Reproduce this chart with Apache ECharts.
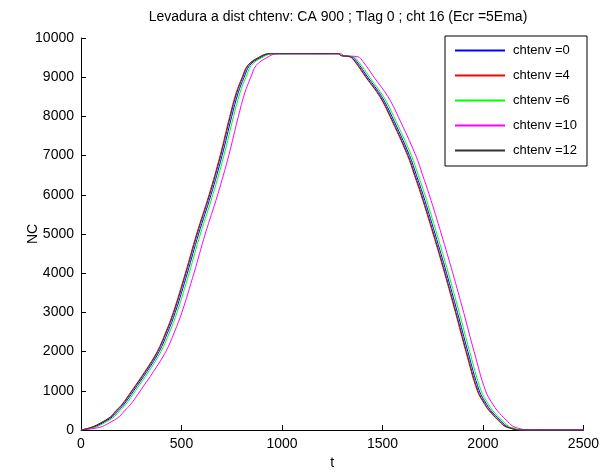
<!DOCTYPE html>
<html>
<head>
<meta charset="utf-8">
<script src="https://cdn.jsdelivr.net/npm/echarts@6/dist/echarts.min.js"></script>
<style>html,body{margin:0;padding:0;background:#fff}#c{width:602px;height:475px}</style>
</head>
<body>
<div id="c"></div>
<script>
// Shared value levels (NC) crossed by each curve, and the time (t) at which each series reaches them
const levels = [0,70,180,340,500,640,1000,1500,2000,2500,3000,4000,5000,6000,7000,8000,8600,9000,9300,9500,9600,
                9600,9550,9520,
                9400,9000,8500,8000,7000,6500,6000,5000,4000,3000,2000,1000,650,500,250,100,50,0,0];
const tChtenv0  = [0,62,107,157,185,212,262,329,389,432,469,529,585,647,702,750,782,812,839,892,947,
                   1282,1297,1347,
                   1372,1427,1497,1547,1635,1669,1702,1762,1819,1873,1925,1982,2019,2039,2085,2117,2142,2188,2500];
const tChtenv4  = [0,52,97,147,175,202,252,319,379,422,459,519,575,637,692,740,772,802,829,882,937,
                   1280,1295,1338,
                   1362,1417,1487,1537,1625,1659,1692,1752,1809,1863,1915,1972,2009,2029,2075,2107,2132,2177,2500];
const tChtenv6  = [0,71,116,166,194,221,271,338,398,441,478,538,594,656,711,759,791,821,848,901,956,
                   1284,1299,1356,
                   1381,1436,1506,1556,1644,1678,1711,1771,1828,1882,1934,1991,2028,2048,2094,2126,2151,2198,2500];
const tChtenv10 = [0,95,140,190,218,245,295,362,422,465,502,562,618,680,735,783,815,845,872,925,978,
                   1290,1310,1378,
                   1403,1458,1528,1578,1666,1700,1733,1793,1850,1904,1956,2013,2050,2070,2116,2148,2173,2225,2500];
const tChtenv12 = [0,55,100,150,178,205,255,322,382,425,462,522,578,640,695,743,775,805,832,885,940,
                   1280,1295,1340,
                   1365,1420,1490,1540,1628,1662,1695,1755,1812,1866,1918,1975,2012,2032,2078,2110,2135,2180,2500];

const seriesNames = ['chtenv =0','chtenv =4','chtenv =6','chtenv =10','chtenv =12'];
const seriesTimes = [tChtenv0, tChtenv4, tChtenv6, tChtenv10, tChtenv12];
const seriesColors = ['#0000ff','#ff0000','#00ff00','#ff00ff','#333333'];
const xTicks = [0,500,1000,1500,2000,2500];
const yTicks = [0,1000,2000,3000,4000,5000,6000,7000,8000,9000,10000];

const FONT = "'Liberation Sans', Arial, sans-serif";
const chart = echarts.init(document.getElementById('c'), null, {renderer:'canvas'});
chart.setOption({
  animation: false,
  backgroundColor: '#fff',
  title: {
    text: 'Levadura a dist chtenv: CA 900 ; Tlag 0 ; cht 16 (Ecr =5Ema)',
    left: 333, top: 5, textAlign: 'center',
    textStyle: {fontFamily: FONT, fontSize: 14, fontWeight: 'normal', color: '#000'}
  },
  grid: {left: 81, right: 17, top: 38, bottom: 42, containLabel: false},
  graphic: [{
    type: 'rect', z: 5,
    shape: {x: 445, y: 36, width: 142, height: 130},
    style: {fill: '#fff', stroke: '#000', lineWidth: 1}
  }],
  legend: {
    z: 10,
    left: 455, top: 43, orient: 'vertical',
    icon: 'rect',
    itemWidth: 50, itemHeight: 2, itemGap: 10, padding: 0,
    itemStyle: {borderWidth: 0},
    textStyle: {fontFamily: FONT, fontSize: 13, color: '#000', padding: [0,0,0,3], lineHeight: 15},
    data: seriesNames
  },
  xAxis: {
    type: 'value', min: xTicks[0], max: xTicks[xTicks.length-1], interval: 500,
    name: 't', nameLocation: 'middle', nameGap: 26, nameMoveOverlap: false,
    nameTextStyle: {fontFamily: FONT, fontSize: 14, color: '#000'},
    axisLine: {show: true, onZero: false, lineStyle: {color: '#000', width: 1}},
    axisTick: {show: true, inside: true, length: 5, lineStyle: {color: '#000'}},
    axisLabel: {fontFamily: FONT, fontSize: 14, color: '#000', margin: 7, formatter: v => String(v)},
    splitLine: {show: false}
  },
  yAxis: {
    type: 'value', min: yTicks[0], max: yTicks[yTicks.length-1], interval: 1000,
    name: 'NC', nameLocation: 'middle', nameGap: 41, nameMoveOverlap: false,
    nameTextStyle: {fontFamily: FONT, fontSize: 14, color: '#000'},
    axisLine: {show: true, onZero: false, lineStyle: {color: '#000', width: 1}},
    axisTick: {show: true, inside: true, length: 5, lineStyle: {color: '#000'}},
    axisLabel: {fontFamily: FONT, fontSize: 14, color: '#000', margin: 7, formatter: v => String(v)},
    splitLine: {show: false}
  },
  series: seriesNames.map((n, i) => ({
    name: n, type: 'line', symbol: 'none', showSymbol: false,
    smooth: 0.4,
    color: seriesColors[i],
    itemStyle: {color: seriesColors[i], borderWidth: 0},
    lineStyle: {width: 1, color: seriesColors[i]},
    data: seriesTimes[i].map((t, k) => [t, levels[k]])
  }))
});
</script>
</body>
</html>
